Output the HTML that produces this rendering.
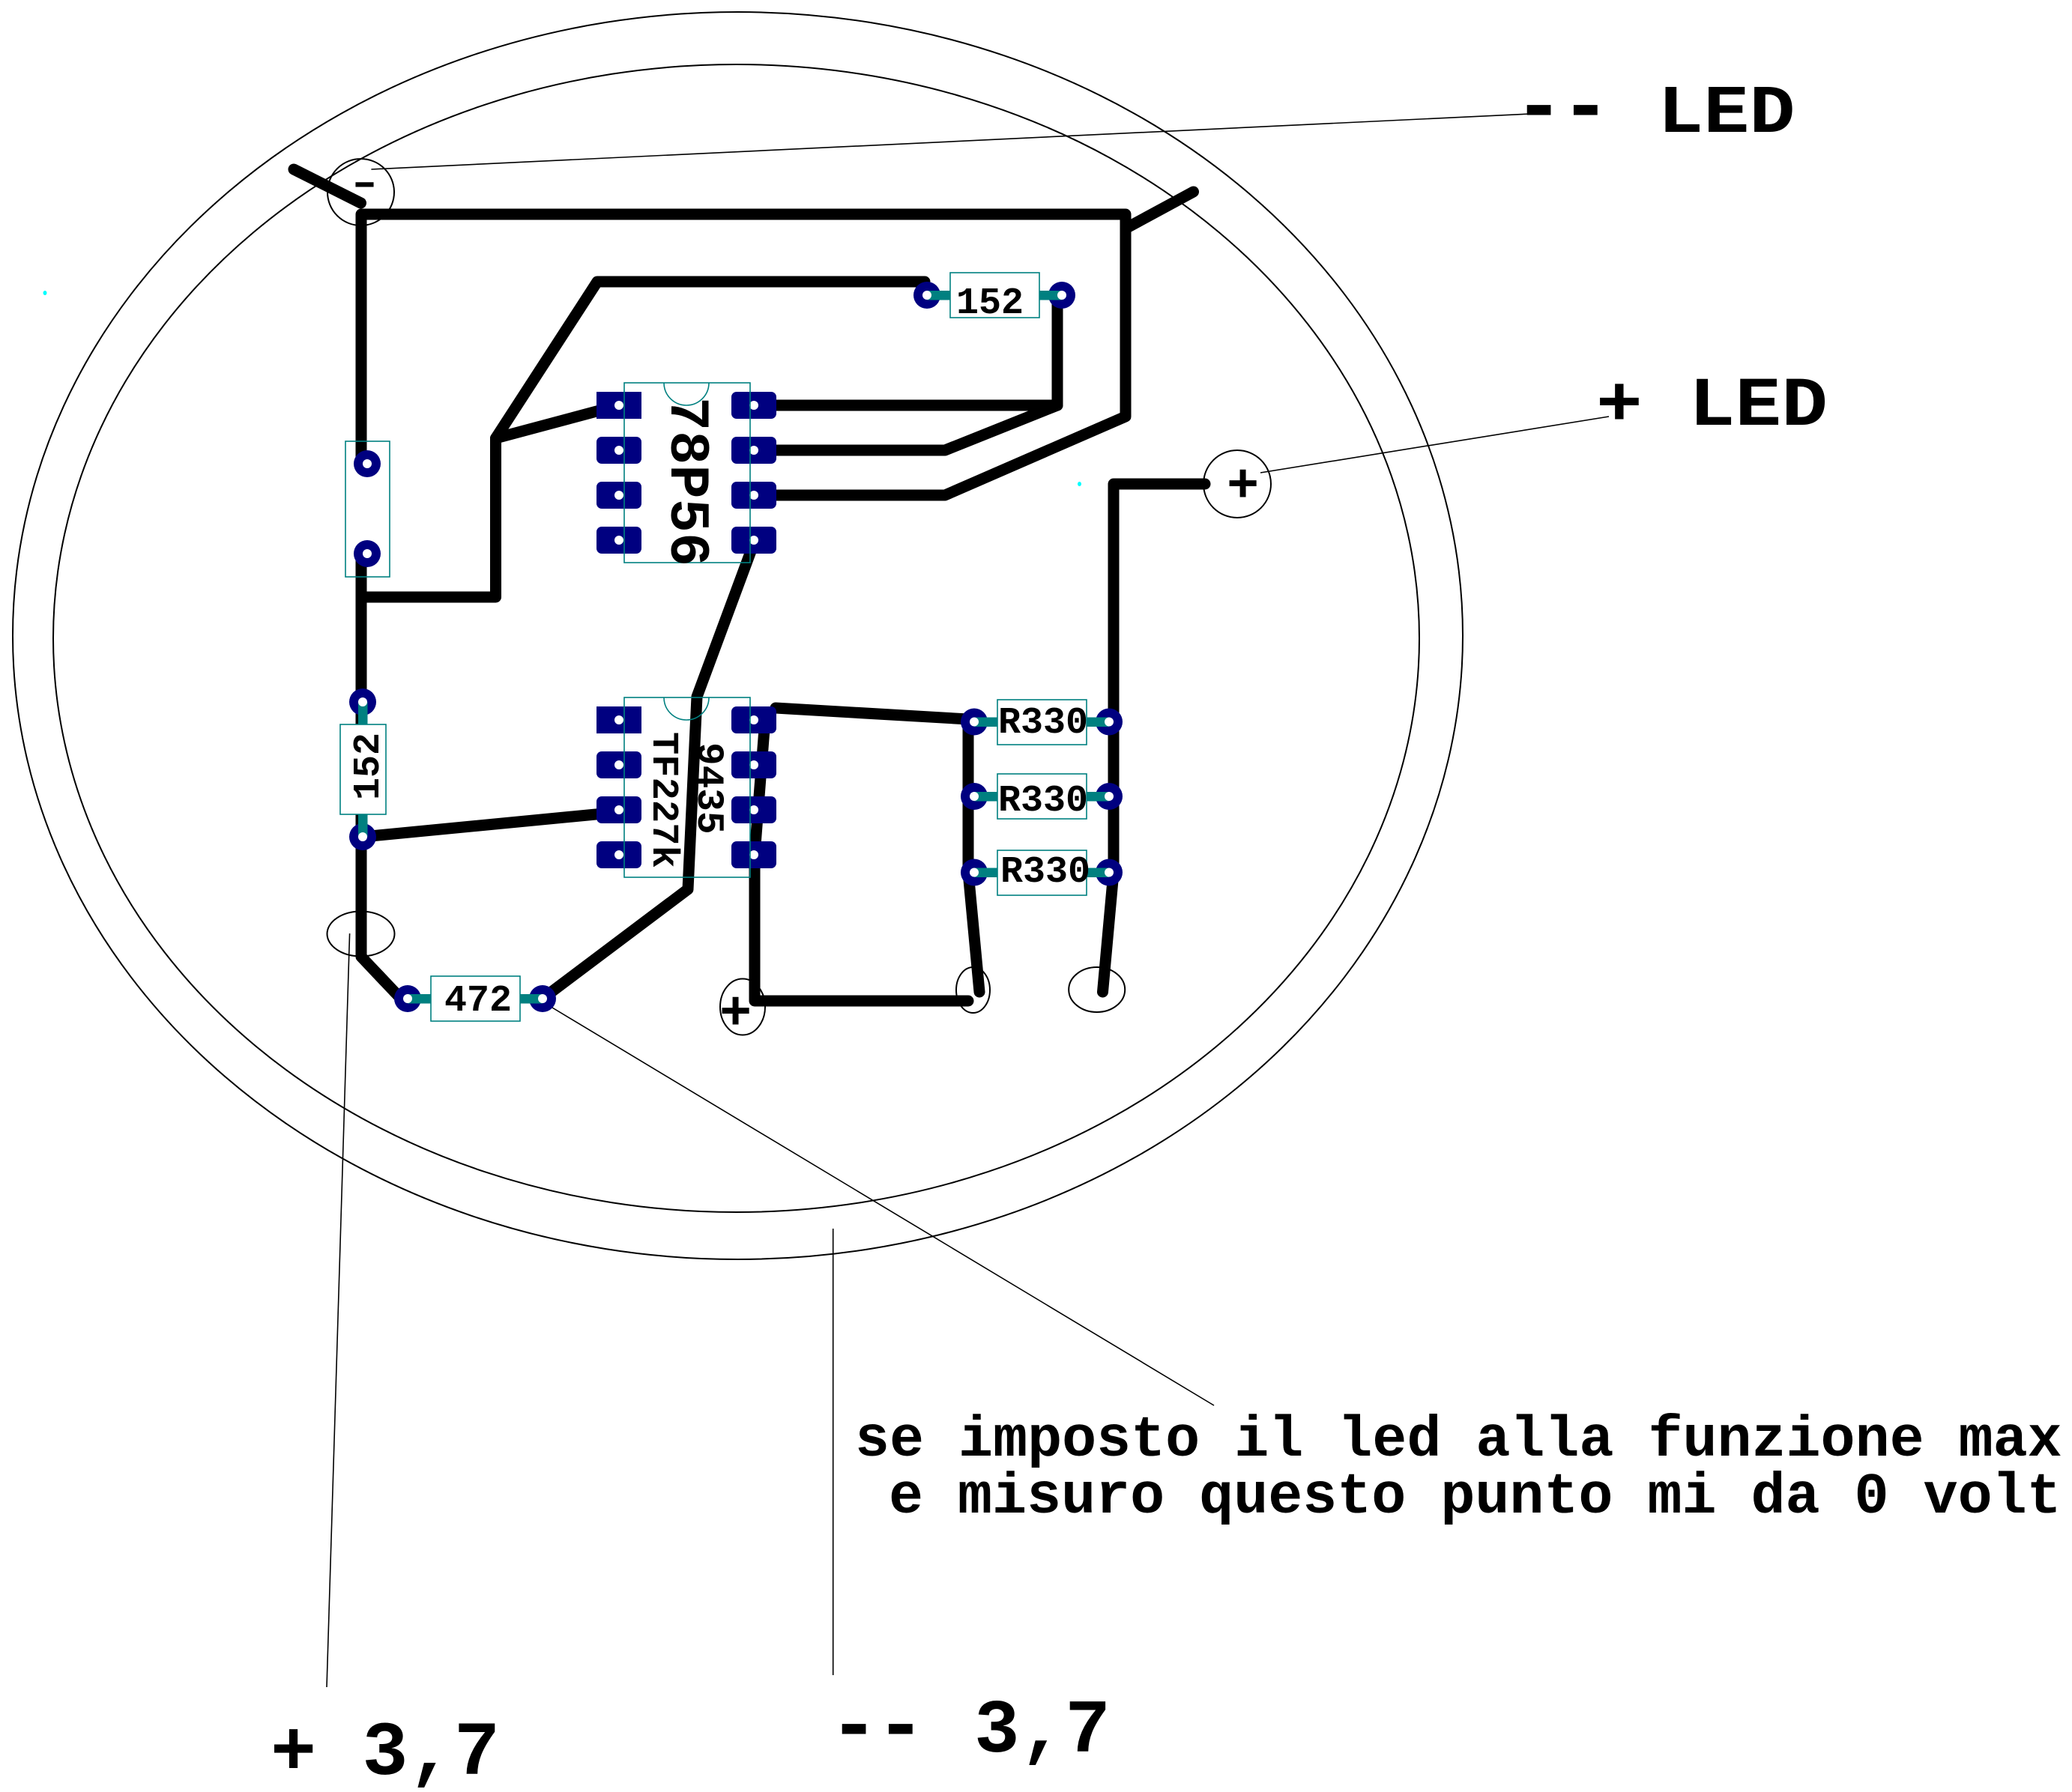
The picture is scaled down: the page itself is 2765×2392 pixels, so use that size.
<!DOCTYPE html>
<html><head><meta charset="utf-8"><style>
html,body{margin:0;padding:0;background:#fff}
svg{display:block}
text{font-family:"Liberation Mono",monospace;font-weight:bold;fill:#000}
</style></head><body>
<svg xmlns="http://www.w3.org/2000/svg" width="2765" height="2392" viewBox="0 0 2765 2392">
<rect width="2765" height="2392" fill="#fff"/>
<g fill="none" stroke="#000" stroke-width="2">
<ellipse cx="984.5" cy="848.5" rx="967.5" ry="832.5"/>
<ellipse cx="982.5" cy="852" rx="911.5" ry="766"/>
<ellipse cx="481.5" cy="256.5" rx="44.5" ry="44.5"/>
<ellipse cx="1651" cy="646" rx="45" ry="45"/>
<ellipse cx="481.5" cy="1246.5" rx="45" ry="30"/>
<ellipse cx="991" cy="1344" rx="30" ry="37.5"/>
<ellipse cx="1298.5" cy="1321.5" rx="22.5" ry="30.5"/>
<ellipse cx="1463.7" cy="1321" rx="37.5" ry="30"/>
</g>
<!-- component bodies -->
<g fill="#fff">
<rect x="461" y="589" width="59" height="181"/>
<rect x="833" y="511" width="168" height="240"/>
<rect x="833" y="931" width="168" height="240"/>
</g>
<!-- tracks -->
<g fill="none" stroke="#000" stroke-width="15" stroke-linejoin="round" stroke-linecap="round">
<path d="M392 226L481.5 271"/>
<path d="M482 610V286H1502V556L1261 661H1006"/>
<path d="M1502 305L1592.5 256"/>
<path d="M1234 376H797L661.5 585V797H482"/>
<path d="M661.5 585L826 541"/>
<path d="M1411 394V541H1006"/>
<path d="M1411 541L1261 601H1006"/>
<path d="M1006 725L930 930L918 1187L724 1333"/>
<path d="M484 1117L826 1084"/>
<path d="M482 745V1277L535 1333"/>
<path d="M1035 945L1292 960V1164L1307 1324"/>
<path d="M1021 960L1007 1141V1336H1292"/>
<path d="M1608 646H1486V1164L1471.5 1324"/>
</g>
<!-- leaders -->
<g fill="none" stroke="#000" stroke-width="1.6">
<path d="M495.4 226L2042 152"/>
<path d="M1682 631L2147 556"/>
<path d="M466.6 1246L436 2252"/>
<path d="M737 1345L1620 1876"/>
<path d="M1111.7 1640V2236"/>
</g>
<!-- cyan dots -->
<ellipse cx="1440.5" cy="646" rx="2.5" ry="3" fill="#00ffff"/>
<ellipse cx="60" cy="391" rx="2.5" ry="3" fill="#00ffff"/>
<!-- pads -->
<g fill="#000080">
<rect x="796" y="523" width="60" height="36"/>
<rect x="796" y="583" width="60" height="36" rx="7"/>
<rect x="796" y="643" width="60" height="36" rx="7"/>
<rect x="796" y="703" width="60" height="36" rx="7"/>
<rect x="976" y="523" width="60" height="36" rx="7"/>
<rect x="976" y="583" width="60" height="36" rx="7"/>
<rect x="976" y="643" width="60" height="36" rx="7"/>
<rect x="976" y="703" width="60" height="36" rx="7"/>
<rect x="796" y="943" width="60" height="36"/>
<rect x="796" y="1003" width="60" height="36" rx="7"/>
<rect x="796" y="1063" width="60" height="36" rx="7"/>
<rect x="796" y="1123" width="60" height="36" rx="7"/>
<rect x="976" y="943" width="60" height="36" rx="7"/>
<rect x="976" y="1003" width="60" height="36" rx="7"/>
<rect x="976" y="1063" width="60" height="36" rx="7"/>
<rect x="976" y="1123" width="60" height="36" rx="7"/>
<circle cx="1237" cy="394" r="18"/><circle cx="1417" cy="394" r="18"/>
<circle cx="490" cy="619" r="18"/><circle cx="490" cy="739" r="18"/>
<circle cx="484" cy="937" r="18"/><circle cx="484" cy="1117" r="18"/>
<circle cx="544" cy="1333" r="18"/><circle cx="724" cy="1333" r="18"/>
<circle cx="1300" cy="963.5" r="18"/><circle cx="1480" cy="963.5" r="18"/>
<circle cx="1300" cy="1063" r="18"/><circle cx="1480" cy="1063" r="18"/>
<circle cx="1300" cy="1164.5" r="18"/><circle cx="1480" cy="1164.5" r="18"/>
</g>
<!-- teal leads -->
<g fill="#008080">
<rect x="1237" y="388" width="31" height="12.5"/><rect x="1387" y="388" width="30" height="12.5"/>
<rect x="478" y="937" width="12.5" height="30"/><rect x="478" y="1087" width="12.5" height="30"/>
<rect x="544" y="1327" width="31" height="12.5"/><rect x="694" y="1327" width="30" height="12.5"/>
<rect x="1300" y="957.5" width="31" height="12.5"/><rect x="1450" y="957.5" width="30" height="12.5"/>
<rect x="1300" y="1057" width="31" height="12.5"/><rect x="1450" y="1057" width="30" height="12.5"/>
<rect x="1300" y="1158.5" width="31" height="12.5"/><rect x="1450" y="1158.5" width="30" height="12.5"/>
</g>
<!-- holes -->
<g fill="#fff">
<circle cx="826" cy="541" r="6"/><circle cx="826" cy="601" r="6"/><circle cx="826" cy="661" r="6"/><circle cx="826" cy="721" r="6"/>
<circle cx="1006" cy="541" r="6"/><circle cx="1006" cy="601" r="6"/><circle cx="1006" cy="661" r="6"/><circle cx="1006" cy="721" r="6"/>
<circle cx="826" cy="961" r="6"/><circle cx="826" cy="1021" r="6"/><circle cx="826" cy="1081" r="6"/><circle cx="826" cy="1141" r="6"/>
<circle cx="1006" cy="961" r="6"/><circle cx="1006" cy="1021" r="6"/><circle cx="1006" cy="1081" r="6"/><circle cx="1006" cy="1141" r="6"/>
<circle cx="1237" cy="394" r="6"/><circle cx="1417" cy="394" r="6"/>
<circle cx="490" cy="619" r="6"/><circle cx="490" cy="739" r="6"/>
<circle cx="484" cy="937" r="6"/><circle cx="484" cy="1117" r="6"/>
<circle cx="544" cy="1333" r="6"/><circle cx="724" cy="1333" r="6"/>
<circle cx="1300" cy="963.5" r="6"/><circle cx="1480" cy="963.5" r="6"/>
<circle cx="1300" cy="1063" r="6"/><circle cx="1480" cy="1063" r="6"/>
<circle cx="1300" cy="1164.5" r="6"/><circle cx="1480" cy="1164.5" r="6"/>
</g>
<!-- outlines -->
<g fill="#fff" stroke="#008080" stroke-width="1.6">
<rect x="1268" y="364" width="119" height="60"/>
<rect x="454" y="967" width="61" height="120"/>
<rect x="575" y="1303" width="119" height="60"/>
<rect x="1331" y="934" width="119" height="60"/>
<rect x="1331" y="1033" width="119" height="60"/>
<rect x="1331" y="1135" width="119" height="60"/>
</g>
<g fill="none" stroke="#008080" stroke-width="1.6">
<rect x="461" y="589" width="59" height="181"/>
<rect x="833" y="511" width="168" height="240"/>
<rect x="833" y="931" width="168" height="240"/>
<path d="M886 511A30 30 0 0 0 946 511"/>
<path d="M886 931A30 30 0 0 0 946 931"/>
</g>
<!-- labels -->
<text transform="translate(461,260) scale(1.15,0.7)" font-size="74">-</text>
<text x="1637" y="669" font-size="72">+</text>
<text x="960" y="1373" font-size="72">+</text>
<text x="1276" y="418" font-size="50">152</text>
<text x="593" y="1349" font-size="50">472</text>
<text x="1332" y="978" font-size="50">R330</text>
<text x="1332" y="1082" font-size="50">R330</text>
<text x="1335" y="1177" font-size="50">R330</text>
<text transform="translate(505,1068) rotate(-90)" font-size="50">152</text>
<text transform="translate(896,530) rotate(90)" font-size="75" textLength="226">78P56</text>
<text transform="translate(872,977) rotate(90)" font-size="50.5">TF227k</text>
<text transform="translate(932,991) rotate(90)" font-size="51">9435</text>
<text x="2020" y="176" font-size="112" letter-spacing="-5">--</text>
<text transform="translate(2212,176) scale(1.02,0.91)" font-size="100">LED</text>
<text transform="translate(2130,567) scale(1.03,0.93)" font-size="100">+ LED</text>
<text x="1141" y="1943" font-size="76.7">se imposto il led alla funzione max</text>
<text x="1186" y="2019" font-size="76.7">e misuro questo punto mi da 0 volt</text>
<text x="1106" y="2337" font-size="112" letter-spacing="-5">--</text>
<text x="1300" y="2338" font-size="101">3,7</text>
<text x="361" y="2368" font-size="102">+ 3,7</text>
</svg>
</body></html>
